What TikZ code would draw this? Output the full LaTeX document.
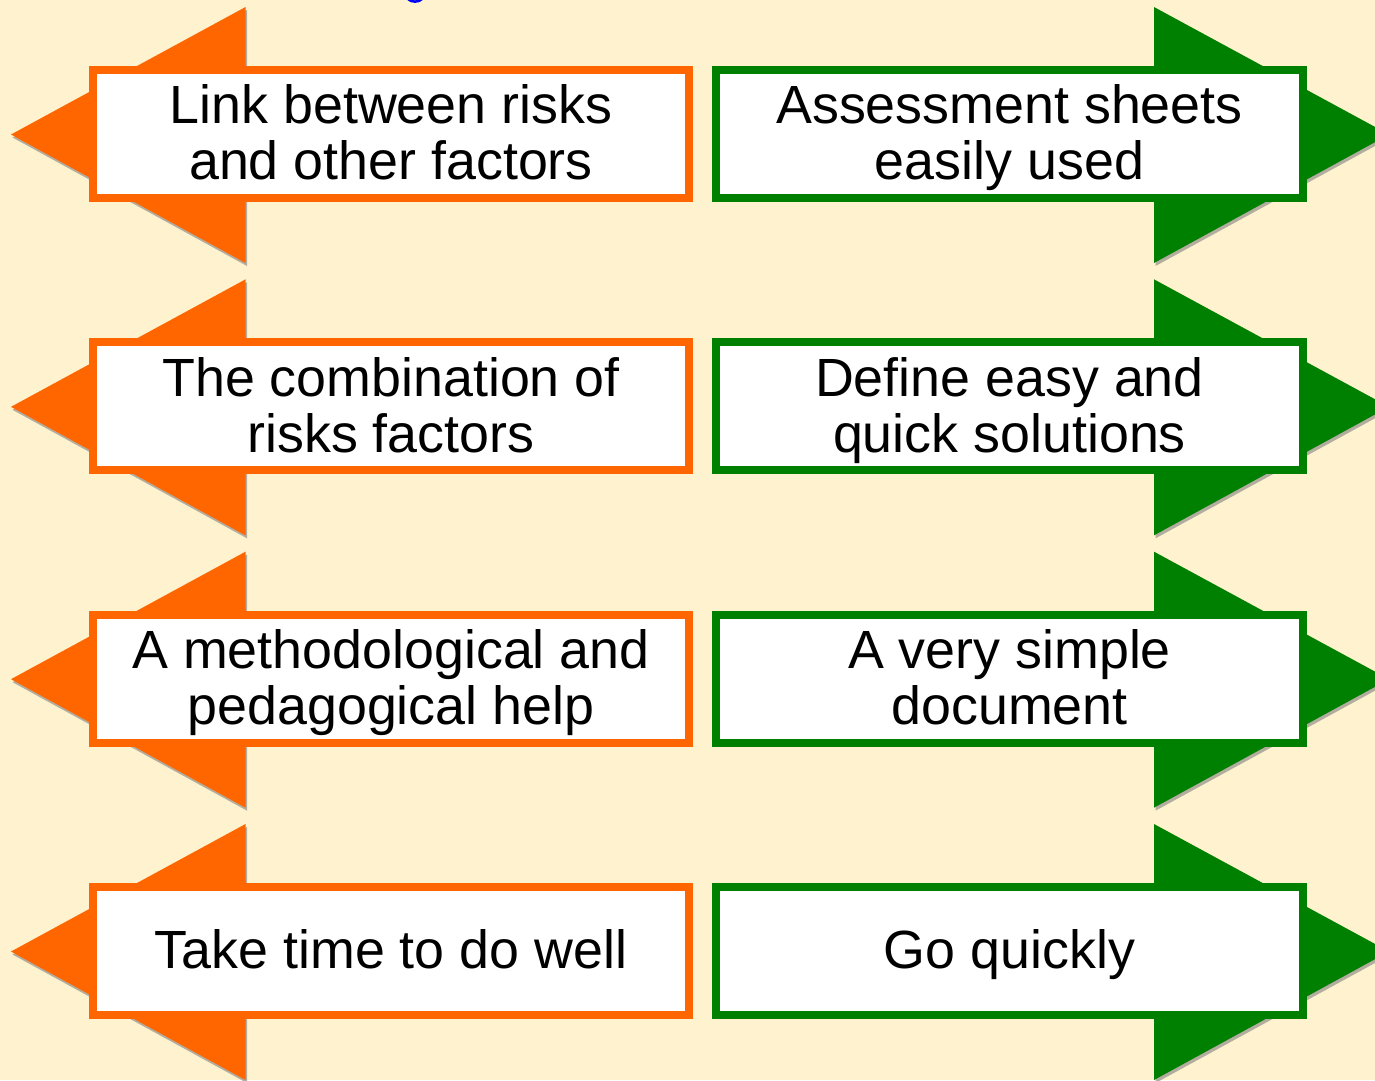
\documentclass[tikz,border=0pt]{standalone}
\usepackage{fontspec}
\setmainfont{Liberation Sans}
\definecolor{bgcream}{HTML}{FEF3CE}
\definecolor{orangeA}{HTML}{FF6600}
\definecolor{greenA}{HTML}{008000}
\definecolor{shadowgray}{HTML}{B3AD9F}
\tikzset{
  boxbase/.style={draw, fill=white, line width=8pt, inner sep=0pt, minimum height=128pt},
  obox/.style={boxbase, draw=orangeA, minimum width=596pt},
  gbox/.style={boxbase, draw=greenA, minimum width=587pt},
  btext/.style={align=center, inner sep=0pt, text=black, font=\fontsize{53.8}{56}\selectfont, yshift=-6.5pt},
  arrshadow/.style={fill=shadowgray},
}
\begin{document}
\begin{tikzpicture}[x=1pt,y=-1pt]
\clip (0,0) rectangle (1375,1080);
\fill[bgcream] (0,0) rectangle (1375,1080);
% blue fragment at top edge
\draw[blue, line width=2.5pt] (408,-1) .. controls (411,2.5) and (419,2.5) .. (422,-1);
% arrows
\foreach \cy in {134.5, 406.83, 679.17, 951.5} {
  \fill[arrshadow] (247,\cy-124.5) -- (12.5,\cy+3) -- (247,\cy+131.5) -- cycle;
  \fill[orangeA] (245.5,\cy-127.5) -- (11,\cy) -- (245.5,\cy+128.5) -- cycle;
  \fill[arrshadow] (1155.5,\cy+131.5) -- (1390.5,\cy+3) -- (1155.5,\cy-124.5) -- cycle;
  \fill[greenA] (1154,\cy-127.5) -- (1389,\cy) -- (1154,\cy+128.5) -- cycle;
}
% boxes
\node[obox] (l1) at (391,134) {};
\node[obox] (l2) at (391,406.33) {};
\node[obox] (l3) at (391,678.67) {};
\node[obox] (l4) at (391,951) {};
\node[gbox] (r1) at (1009.5,134) {};
\node[gbox] (r2) at (1009.5,406.33) {};
\node[gbox] (r3) at (1009.5,678.67) {};
\node[gbox] (r4) at (1009.5,951) {};
% texts
\node[btext] (l1t) at (l1.center) {\strut Link between risks\\\strut and other factors};
\node[btext] (l2t) at (l2.center) {\strut The combination of\\\strut risks factors};
\node[btext] (l3t) at (l3.center) {\strut A methodological and\\\strut pedagogical help};
\node[btext] (l4t) at (l4.center) {\strut Take time to do well};
\node[btext] (r1t) at (r1.center) {\strut Assessment sheets\\\strut easily used};
\node[btext] (r2t) at (r2.center) {\strut Define easy and\\\strut quick solutions};
\node[btext] (r3t) at (r3.center) {\strut A very simple\\\strut document};
\node[btext] (r4t) at (r4.center) {\strut Go quickly};
\end{tikzpicture}
\end{document}
